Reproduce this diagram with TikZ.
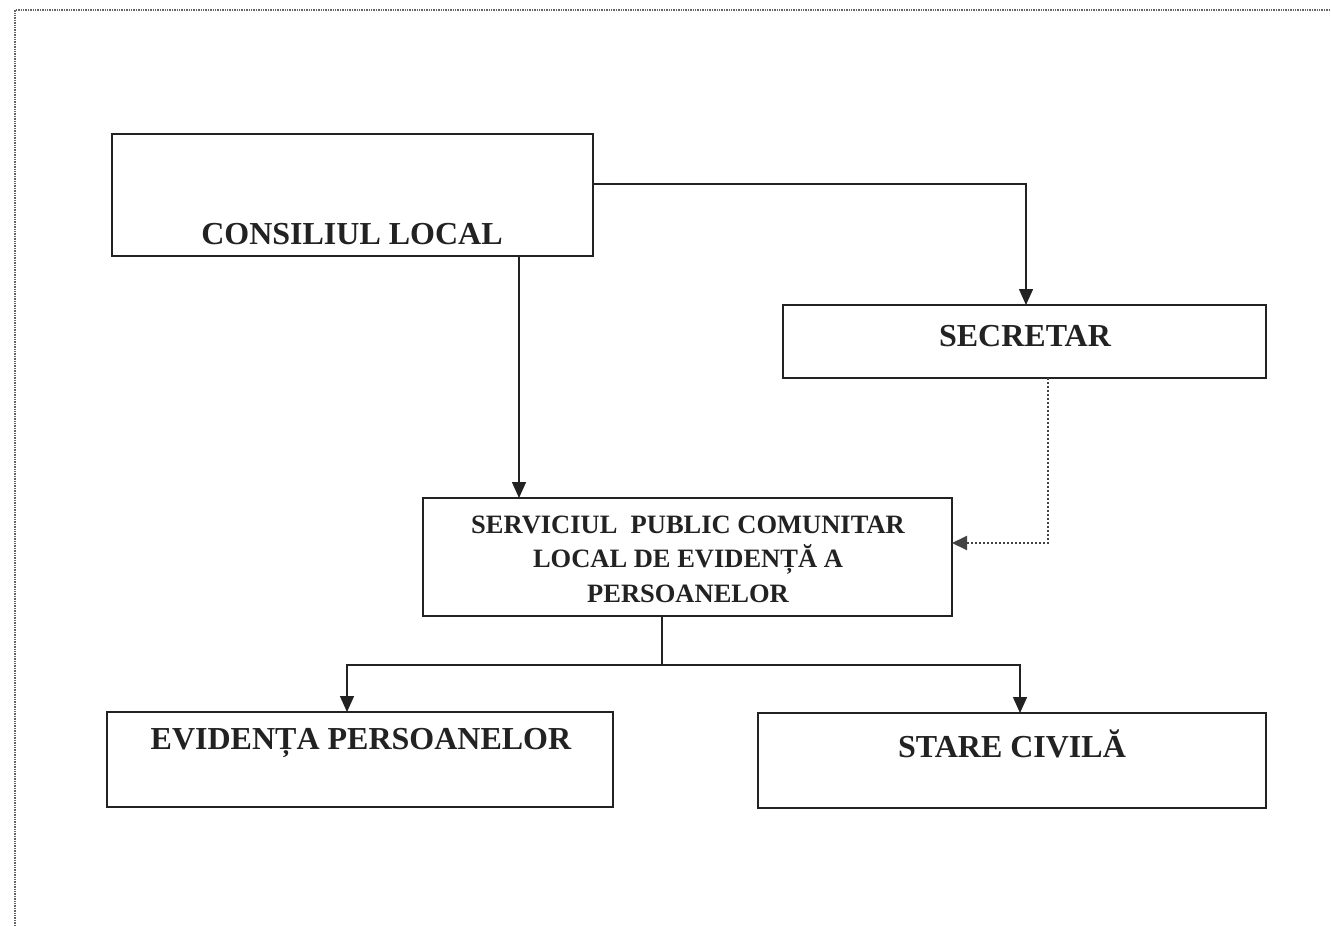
\documentclass[tikz,border=0pt]{standalone}
\usepackage{fontspec}
\setmainfont{Liberation Serif}
\usetikzlibrary{arrows.meta}
\definecolor{ink}{HTML}{222222}
\begin{document}
\begin{tikzpicture}[x=1pt,y=-1pt,
  box/.style={draw=ink,line width=1.8pt,rectangle,inner sep=0pt,outer sep=0pt},
  lbl/.style={font=\bfseries\fontsize{32}{38}\selectfont,text=ink,inner sep=0pt,align=center},
  lbls/.style={font=\bfseries\fontsize{26.5}{34.5}\selectfont,text=ink,inner sep=0pt,align=center},
  conn/.style={draw=ink,line width=1.5pt},
  arr/.style={conn,-{Triangle[length=16pt,width=14pt]}},
  dots/.style={draw=ink!85,line width=2pt,dotted},
  frame/.style={draw=ink!70,line width=1.4pt,densely dotted}]
\useasboundingbox (0,0) rectangle (1331,926);
\fill[white] (0,0) rectangle (1331,926);
% outer frame (top and left edges)
\coordinate (f1) at (15,926);
\coordinate (f2) at (15,10);
\coordinate (f3) at (1331,10);
\draw[frame] (f1) -- (f2) -- (f3);
% boxes
\node[box,minimum width=481pt,minimum height=122pt] (cl) at (352.5,195) {};
\node[box,minimum width=483pt,minimum height=73pt] (sec) at (1024.5,341.5) {};
\node[box,minimum width=529pt,minimum height=118pt] (spc) at (687.5,557) {};
\node[box,minimum width=506pt,minimum height=95pt] (ep) at (360,759.5) {};
\node[box,minimum width=508pt,minimum height=95pt] (sc) at (1012,760.5) {};
% texts
\node[lbl] (tcl) at (352,234) {CONSILIUL LOCAL};
\node[lbl] (tsec) at (1025,336) {SECRETAR};
\node[lbls] (tspc) at (688,559) {SERVICIUL\ \ PUBLIC COMUNITAR\\LOCAL DE EVIDENȚĂ A\\PERSOANELOR};
\node[lbl] (tep) at (361,743) {EVIDENȚA PERSOANELOR};
\node[lbl] (tsc) at (1012,744) {STARE CIVILĂ};
% connectors
\draw[arr] ([yshift=11pt]cl.east) -| ([xshift=1.5pt]sec.north);
\coordinate (c1) at (519,256);
\draw[arr] (c1) -- (c1 |- spc.north);
\draw[dots,-{Triangle[length=15pt,width=14pt]}] ([xshift=23.5pt]sec.south) |- ([yshift=14pt]spc.east);
\coordinate (j) at (662,665);
\draw[conn] (j |- spc.south) -- (j);
\draw[arr] (j) -| ([xshift=-13pt]ep.north);
\draw[arr] (j) -| ([xshift=8pt]sc.north);
\end{tikzpicture}
\end{document}
